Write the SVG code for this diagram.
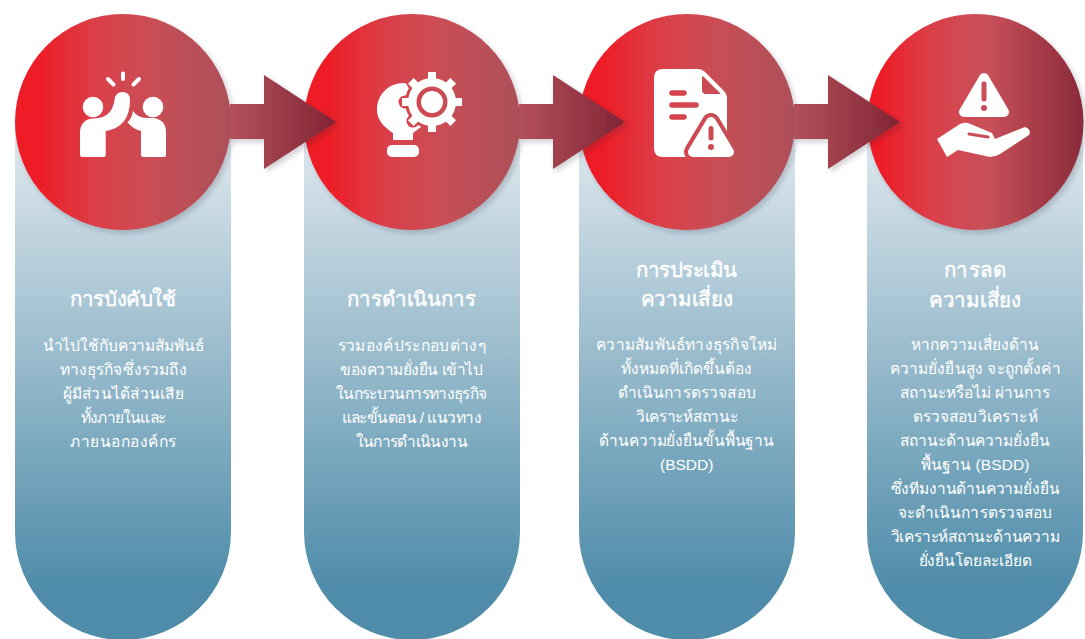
<svg xmlns="http://www.w3.org/2000/svg" width="1085" height="639" viewBox="0 0 1085 639">
<defs>
<linearGradient id="pill" gradientUnits="userSpaceOnUse" x1="0" y1="122" x2="0" y2="590"><stop offset="0" stop-color="#e4ebf0"/><stop offset="1" stop-color="#4e8ca9"/></linearGradient>
<linearGradient id="red"><stop offset="0.1" stop-color="#ee1c25"/><stop offset="0.39" stop-color="#da404a"/><stop offset="0.63" stop-color="#ca4d55"/><stop offset="0.76" stop-color="#be5058"/><stop offset="1" stop-color="#ad4f58"/></linearGradient>
<linearGradient id="r1" href="#red" gradientUnits="userSpaceOnUse" x1="15" x2="231" y1="0" y2="0"/>
<linearGradient id="r2" href="#red" gradientUnits="userSpaceOnUse" x1="304" x2="520" y1="0" y2="0"/>
<linearGradient id="r3" href="#red" gradientUnits="userSpaceOnUse" x1="579" x2="795" y1="0" y2="0"/>
<linearGradient id="r4" gradientUnits="userSpaceOnUse" x1="867" x2="1084" y1="0" y2="0"><stop offset="0.06" stop-color="#ee1c25"/><stop offset="0.3" stop-color="#da404a"/><stop offset="0.55" stop-color="#c8505a"/><stop offset="1" stop-color="#8a2a3a"/></linearGradient>
<linearGradient id="arrow" x1="0" y1="0" x2="1" y2="0"><stop offset="0" stop-color="#b3505a"/><stop offset="1" stop-color="#812535"/></linearGradient>
<filter id="sh" x="-20%" y="-20%" width="150%" height="150%"><feDropShadow dx="2.500" dy="3" stdDeviation="2.500" flood-color="#1a2a3a" flood-opacity=".22"/></filter>
</defs>
<style>
.t{font-family:"Liberation Sans","Noto Sans",sans-serif;fill:#fff;text-anchor:middle}
.h{font-size:20.5px;stroke:#fff;stroke-width:.45px}
.b{font-size:15.5px}
.w{fill:#fff}
.c{filter:url(#sh)}
.l{stroke:#fff;fill:none;stroke-linecap:round}
.a{fill:url(#arrow);filter:url(#sh)}
</style>
<rect width="1085" height="639" fill="#fff"/>
<g id="node1">
<path d="M15 122H231V532A108 108 0 0 1 15 532Z" fill="url(#pill)"/>
<circle class="c" cx="123" cy="122" r="108" fill="url(#r1)"/>
<circle class="w" cx="93" cy="107" r="10.300"/>
<circle class="w" cx="153" cy="107" r="10.300"/>
<path class="w" d="M80 155V133Q80 119 94 118.500Q112 118 114.500 100Q115.500 92 122.500 92Q130 92 130 100Q130 127 105.700 131V155Q105.700 157 103.700 157H82Q80 157 80 155Z"/>
<path class="w" d="M141 155V131Q133 129 127.500 122.500Q132 118 133 111Q138 118 146 118H154Q166 120 166 132V155Q166 157 164 157H143Q141 157 141 155Z"/>
<path class="l" stroke-width="4" d="M123 73.500V79M108 79L113.500 84.500M139 79L133.500 84.500"/>
<text class="t h" x="123" y="306" textLength="106">การบังคับใช้</text>
<text class="t b" x="123" y="351" textLength="161">นำไปใช้กับความสัมพันธ์</text>
<text class="t b" x="123" y="375" textLength="127">ทางธุรกิจซึ่งรวมถึง</text>
<text class="t b" x="123" y="399" textLength="121">ผู้มีส่วนได้ส่วนเสีย</text>
<text class="t b" x="123" y="423" textLength="85">ทั้งภายในและ</text>
<text class="t b" x="123" y="447" textLength="106">ภายนอกองค์กร</text>
</g>
<g id="node2">
<path d="M304 122H520V532A108 108 0 0 1 304 532Z" fill="url(#pill)"/>
<circle class="c" cx="412" cy="122" r="108" fill="url(#r2)"/>
<path class="w" d="M404 83C388 83 377 95 377 110C377 120 384 127 393 133V140H413V133L421 127L430 90Z"/>
<rect class="w" x="387" y="145" width="32" height="12" rx="5"/>
<path fill="none" stroke="url(#r2)" stroke-width="13" stroke-linecap="round" d="M432 79V75M432 125V129M409 102H405M455 102H459M415.700 85.700L412.900 82.900M448.300 118.300L451.100 121.100M448.300 85.700L451.100 82.900M415.700 118.300L412.900 121.100"/>
<circle cx="432" cy="102" r="27" fill="url(#r2)"/>
<path fill="none" stroke="#fff" stroke-width="8" d="M432 79V72M432 125V132M409 102H402M455 102H462M415.700 85.700L410.800 80.800M448.300 118.300L453.200 123.200M448.300 85.700L453.200 80.800M415.700 118.300L410.800 123.200"/>
<circle class="w" cx="432" cy="102" r="24"/>
<circle cx="432" cy="102" r="15.500" fill="url(#r2)"/>
<circle class="w" cx="432" cy="102" r="11"/>
<text class="t h" x="411.500" y="306" textLength="129">การดำเนินการ</text>
<text class="t b" x="411.500" y="351" textLength="148">รวมองค์ประกอบต่างๆ</text>
<text class="t b" x="411.500" y="375" textLength="143">ของความยั่งยืน เข้าไป</text>
<text class="t b" x="411.500" y="399" textLength="151">ในกระบวนการทางธุรกิจ</text>
<text class="t b" x="411.500" y="423" textLength="140">และขั้นตอน / แนวทาง</text>
<text class="t b" x="411.500" y="447" textLength="112">ในการดำเนินงาน</text>
</g>
<g id="node3">
<path d="M579 122H795V532A108 108 0 0 1 579 532Z" fill="url(#pill)"/>
<circle class="c" cx="687" cy="122" r="108" fill="url(#r3)"/>
<path class="w" d="M663 69H698Q702 69 705 72L723 90Q727 94 727 98V150Q727 157 720 157H663Q654 157 654 148V78Q654 69 663 69Z"/>
<path d="M702 78Q702 75 704 77L719 92Q722 94 719 94H706Q702 94 702 90Z" fill="url(#r3)"/>
<path fill="none" stroke="url(#r3)" stroke-linecap="round" stroke-width="5.500" d="M672 93H684M672 105H696M672 117H684"/>
<path d="M711 122L693 152H729Z" fill="url(#r3)" stroke="url(#r3)" stroke-width="18" stroke-linejoin="round"/>
<path d="M711 122L693 152H729Z" fill="#fff" stroke="#fff" stroke-width="10" stroke-linejoin="round"/>
<path fill="none" stroke="url(#r3)" stroke-linecap="round" stroke-width="5" d="M711 128.500V138"/>
<circle cx="711" cy="147" r="3" fill="url(#r3)"/>
<text class="t h" x="686.700" y="277" textLength="101">การประเมิน</text>
<text class="t h" x="686.700" y="306" textLength="92">ความเสี่ยง</text>
<text class="t b" x="686.700" y="350" textLength="181">ความสัมพันธ์ทางธุรกิจใหม่</text>
<text class="t b" x="686.700" y="374" textLength="131">ทั้งหมดที่เกิดขึ้นต้อง</text>
<text class="t b" x="686.700" y="398" textLength="138">ดำเนินการตรวจสอบ</text>
<text class="t b" x="686.700" y="422" textLength="102">วิเคราะห์สถานะ</text>
<text class="t b" x="686.700" y="446" textLength="175">ด้านความยั่งยืนขั้นพื้นฐาน</text>
<text class="t b" x="686.700" y="470">(BSDD)</text>
</g>
<g id="node4">
<path d="M867 122H1083V532A108 108 0 0 1 867 532Z" fill="url(#pill)"/>
<circle class="c" cx="975.500" cy="122" r="108" fill="url(#r4)"/>
<path d="M984 78L964 112H1004Z" fill="#fff" stroke="#fff" stroke-width="10" stroke-linejoin="round"/>
<path fill="none" stroke="url(#r4)" stroke-linecap="round" stroke-width="5" d="M984 84V99"/>
<circle cx="984" cy="108" r="3" fill="url(#r4)"/>
<path class="w" d="M937 139L947 157L958 150L990 157Q995 157 1000 154L1029 135Q1032 130 1025 127L995 139L992 133L968 123Q964 122 960 124Z"/>
<path fill="none" stroke="url(#r4)" stroke-linecap="round" stroke-width="3" d="M969 134L988 137"/>
<text class="t h" x="975" y="277" textLength="62">การลด</text>
<text class="t h" x="975" y="307" textLength="92">ความเสี่ยง</text>
<text class="t b" x="975" y="350" textLength="128">หากความเสี่ยงด้าน</text>
<text class="t b" x="975" y="374" textLength="171">ความยั่งยืนสูง จะถูกตั้งค่า</text>
<text class="t b" x="975" y="398" textLength="150">สถานะหรือไม่ ผ่านการ</text>
<text class="t b" x="975" y="422" textLength="125">ตรวจสอบวิเคราะห์</text>
<text class="t b" x="975" y="446" textLength="150">สถานะด้านความยั่งยืน</text>
<text class="t b" x="975" y="470" textLength="109">พื้นฐาน (BSDD)</text>
<text class="t b" x="975" y="494" textLength="169">ซึ่งทีมงานด้านความยั่งยืน</text>
<text class="t b" x="975" y="518" textLength="154">จะดำเนินการตรวจสอบ</text>
<text class="t b" x="975" y="542" textLength="169">วิเคราะห์สถานะด้านความ</text>
<text class="t b" x="975" y="566" textLength="113">ยั่งยืนโดยละเอียด</text>
</g>
<g id="connectors">
<path class="a" d="M230 104H264V75L336 122L264 169V139H230Z"/>
<path class="a" d="M519 104H553V75L625 122L553 169V139H519Z"/>
<path class="a" d="M794 104H828V75L900 122L828 169V139H794Z"/>
</g>
</svg>
